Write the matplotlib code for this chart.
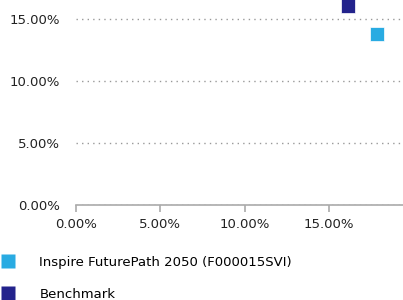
import matplotlib
matplotlib.use("Agg")
import matplotlib.pyplot as plt
from matplotlib.lines import Line2D
from matplotlib.ticker import FuncFormatter

# risk (std dev, %) vs return (%)
names = ["Inspire FuturePath 2050 (F000015SVI)", "Benchmark"]
risk = [17.83, 16.15]
ret = [13.73, 16.05]
colors = ["#29abe2", "#23238c"]

xticks = [0, 5, 10, 15]
yticks = [0, 5, 10, 15]

plt.rcParams['font.family'] = 'DejaVu Sans'
fig = plt.figure(figsize=(4.03, 3.0), dpi=100)
ax = fig.add_axes([76 / 403, 95 / 300, 1 - 76 / 403, 205 / 300])

for x, y, c in zip(risk, ret, colors):
    ax.scatter([x], [y], marker='s', s=88, color=c, edgecolors='white',
               linewidths=0.5, zorder=3, clip_on=False)

ax.set_xlim(0, 19.4)
ax.set_ylim(0, 16.5)
ax.set_xticks(xticks)
ax.set_yticks(yticks)
fmt = FuncFormatter(lambda v, p: f"{v:.2f}%")
ax.xaxis.set_major_formatter(fmt)
ax.yaxis.set_major_formatter(fmt)

for s in ['top', 'right', 'left']:
    ax.spines[s].set_visible(False)
ax.spines['bottom'].set_color('#aaaaaa')
ax.spines['bottom'].set_linewidth(1.2)
ax.tick_params(axis='x', length=5, color='#aaaaaa', width=1.2, pad=4,
               labelsize=9.5, labelcolor='#222222')
ax.tick_params(axis='y', length=0, pad=11.5, labelsize=9.5, labelcolor='#222222')
ax.grid(axis='y', color='#999999', linestyle=(0, (1, 3)), linewidth=1)
ax.set_axisbelow(True)

handles = [Line2D([], [], marker='s', linestyle='none', markersize=9.4,
                  color=c, markeredgecolor='none') for c in colors]
fig.legend(handles, names, loc='upper left', bbox_to_anchor=(-0.012, 0.165),
           frameon=False, fontsize=9.5, handletextpad=1.75, labelspacing=1.45,
           borderaxespad=0, handlelength=1.2)

fig.savefig("out.png", dpi=100)
